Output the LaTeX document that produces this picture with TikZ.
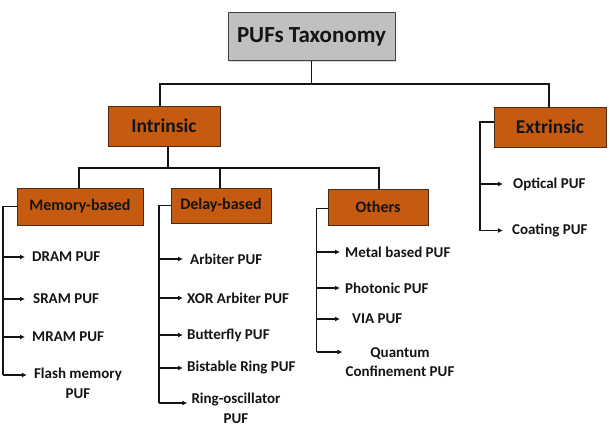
\documentclass[tikz,border=0pt]{standalone}
\usepackage{fontspec}
\setmainfont{Carlito}
\usetikzlibrary{arrows.meta,shadows}
\definecolor{boxor}{HTML}{C55A11}
\definecolor{boxedge}{HTML}{4A2A12}
\definecolor{titlegray}{HTML}{C0C0C0}
\definecolor{titleedge}{HTML}{404040}
\definecolor{ink}{HTML}{141414}
\tikzset{
  catbox/.style={draw=boxedge, line width=0.9pt, fill=boxor, inner sep=0pt,
    font=\bfseries, text=ink,
    drop shadow={opacity=0.35, shadow xshift=1.2pt, shadow yshift=-1.2pt}},
  titlebox/.style={draw=titleedge, line width=1pt, fill=titlegray, inner sep=0pt,
    minimum width=167pt, minimum height=48pt,
    font=\fontsize{23}{27}\selectfont\bfseries, text=ink,
    drop shadow={opacity=0.3, shadow xshift=1.2pt, shadow yshift=-1.2pt}},
  bigcat/.style={catbox, minimum width=112pt, minimum height=40pt,
    font=\fontsize{19.5}{23}\selectfont\bfseries},
  subcat/.style={catbox, font=\fontsize{16}{19}\selectfont\bfseries},
  leaf/.style={inner sep=0pt, anchor=west, font=\fontsize{15}{19}\selectfont\bfseries, text=ink},
  mleaf/.style={inner sep=0pt, align=center, font=\fontsize{15}{19.5}\selectfont\bfseries, text=ink},
  conn/.style={draw=ink, line width=1.35pt},
  arr/.style={conn, -{Latex[length=5pt,width=5pt]}}
}
\begin{document}
\begin{tikzpicture}[x=1pt,y=-1pt]
\useasboundingbox (0,0) rectangle (610,428);
% main nodes
\node[titlebox] (title) at (311.5,37) {PUFs Taxonomy};
\node[bigcat] (intr) at (164,126) {Intrinsic};
\node[bigcat] (extr) at (550,127) {Extrinsic};
\node[subcat, minimum width=126pt, minimum height=37pt] (mem) at (80,206.5) {Memory-based};
\node[subcat, minimum width=100pt, minimum height=35pt] (delay) at (221,205.5) {Delay-based};
\node[subcat, minimum width=100pt, minimum height=36pt] (oth) at (378,207) {Others};
% bus coordinates
\coordinate (bus1) at (0,84);
\coordinate (bus2) at (0,168);
\coordinate (mL) at (3,0);
\coordinate (dL) at (159,0);
\coordinate (oL) at (316.5,0);
\coordinate (eL) at (480,0);
% leaves: memory
\node[leaf] (dram) at (32,257) {DRAM PUF};
\node[leaf] (sram) at (33,299) {SRAM PUF};
\node[leaf] (mram) at (32,337) {MRAM PUF};
\node[mleaf] (flash) at (78,383.5) {Flash memory\\PUF};
% leaves: delay
\node[leaf] (arb) at (190,259) {Arbiter PUF};
\node[leaf] (xor) at (187,298) {XOR Arbiter PUF};
\node[leaf] (bfly) at (187,335) {Butterfly PUF};
\node[leaf] (bist) at (187,368) {Bistable Ring PUF};
\node[mleaf] (ring) at (236,408.5) {Ring-oscillator\\PUF};
% leaves: others
\node[leaf] (metal) at (345,252) {Metal based PUF};
\node[leaf] (phot) at (345,288) {Photonic PUF};
\node[leaf] (via) at (352,319) {VIA PUF};
\node[mleaf] (quant) at (400,362) {Quantum\\Confinement PUF};
% leaves: extrinsic
\node[leaf] (opt) at (513,184) {Optical PUF};
\node[leaf] (coat) at (512,230.5) {Coating PUF};
% arrow targets
\coordinate (dramT) at ([xshift=-7pt]dram.west);
\coordinate (sramT) at ([xshift=-8pt]sram.west);
\coordinate (mramT) at ([xshift=-7pt]mram.west);
\coordinate (flashT) at ([xshift=-7pt,yshift=8.5pt]flash.west);
\coordinate (arbT) at ([xshift=-7pt]arb.west);
\coordinate (xorT) at ([xshift=-4pt]xor.west);
\coordinate (bflyT) at ([xshift=-4pt]bfly.west);
\coordinate (bistT) at ([xshift=-4pt]bist.west);
\coordinate (ringT) at ([xshift=-4pt,yshift=5.5pt]ring.west);
\coordinate (metalT) at ([xshift=-5pt]metal.west);
\coordinate (photT) at ([xshift=-5pt]phot.west);
\coordinate (viaT) at ([xshift=-12pt]via.west);
\coordinate (quantT) at ([xshift=-3pt,yshift=10pt]quant.west);
\coordinate (optT) at ([xshift=-10pt]opt.west);
\coordinate (coatT) at ([xshift=-9pt]coat.west);
% tree connectors
\draw[conn] (title.south) -- (title.south |- bus1);
\draw[conn] ([xshift=-4pt]intr.north) |- ([xshift=-1pt]extr.north |- bus1) -- ([xshift=-1pt]extr.north);
\draw[conn] ([xshift=4pt]intr.south) -- ([xshift=4pt]intr.south |- bus2);
\draw[conn] ([xshift=-1pt]mem.north) |- ([xshift=1pt]oth.north |- bus2) -- ([xshift=1pt]oth.north);
\draw[conn] ([xshift=-1pt]delay.north) -- ([xshift=-1pt]delay.north |- bus2);
% side rails
\draw[conn] (mem.west) -- (mem.west -| mL) -- (mL |- flashT);
\draw[conn] (delay.west) -- (delay.west -| dL) -- (dL |- ringT);
\draw[conn] ([yshift=-1.5pt]oth.west) -- ([yshift=-1.5pt]oth.west -| oL) -- (oL |- quantT);
\draw[conn] ([yshift=5pt]extr.west) -- ([yshift=5pt]extr.west -| eL) -- (eL |- coatT);
% arrows
\foreach \t/\r in {dram/mL,sram/mL,mram/mL,flash/mL,arb/dL,xor/dL,bfly/dL,bist/dL,ring/dL,metal/oL,phot/oL,via/oL,quant/oL,opt/eL,coat/eL}
  \draw[arr] (\r |- \t T) -- (\t T);
\end{tikzpicture}
\end{document}
